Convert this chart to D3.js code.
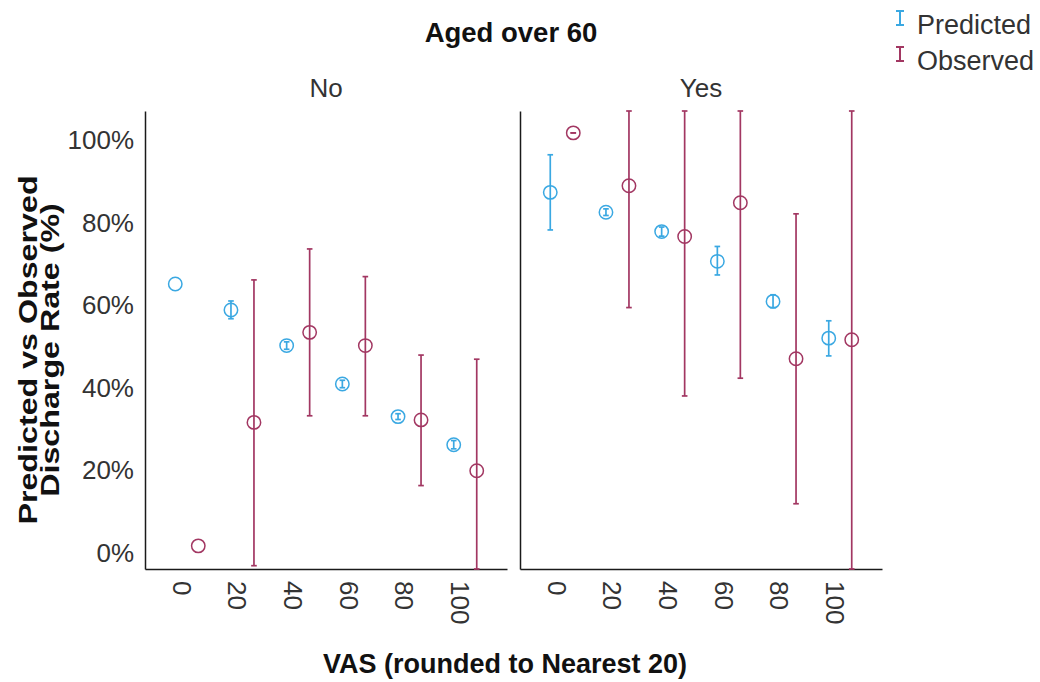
<!DOCTYPE html>
<html>
<head>
<script src='https://d3js.org/d3.v7.min.js'></script>
<style>
body {margin:0; background-color:#ffffff;}
text {font-family:'Liberation Sans', Arial, sans-serif;}
</style>
</head>
<body>
<svg width=1040 height=682></svg>

<script>
var categories = ['0','20','40','60','80','100']
var panels = ['No','Yes']
var yTicks = [0,20,40,60,80,100]

// predicted discharge rate (%) with CI, Aged over 60 = No (null = no interval drawn)
var predNo = [63.4,57.1,48.5,39.2,31.3,24.5]
var predNoLo = [null,55.0,47.6,38.3,30.6,23.5]
var predNoHi = [null,59.3,49.4,40.1,32.0,25.5]
// observed, No
var obsNo = [0,29.9,51.7,48.5,30.5,18.2]
var obsNoLo = [null,-4.8,31.5,31.5,14.6,-9]
var obsNoHi = [null,64.4,71.9,65.2,46.2,45.2]
// predicted, Yes
var predYes = [85.6,80.8,76.1,68.9,59.2,50.3]
var predYesLo = [76.5,80.0,75.0,65.6,57.7,46.0]
var predYesHi = [94.7,81.6,77.2,72.5,60.8,54.5]
// observed, Yes
var obsYes = [100,87.2,74.9,83.1,45.3,49.9]
var obsYesLo = [100,57.7,36.3,40.6,10.2,-10]
var obsYesHi = [100,116.7,113.5,125.6,80.4,110]

var predColor = '#3aa8e2'
var obsColor = '#a23762'
var top_ = 111, bottom = 569
var panelLeft = [145,520], panelWidth = 362
var dodge = 11.5

var svg = d3.select('svg')

var y = d3.scaleLinear().domain([-5.6,105.3]).range([bottom,top_]).clamp(true)
var x = d3.scaleBand().domain(categories).range([0,panelWidth]).paddingInner(0).paddingOuter(0.25)

var series = {
  No: [{v:predNo, lo:predNoLo, hi:predNoHi, c:predColor, off:-dodge},
       {v:obsNo, lo:obsNoLo, hi:obsNoHi, c:obsColor, off:dodge}],
  Yes: [{v:predYes, lo:predYesLo, hi:predYesHi, c:predColor, off:-dodge},
        {v:obsYes, lo:obsYesLo, hi:obsYesHi, c:obsColor, off:dodge}]
}

panels.forEach(function(p,pi){
  var g = svg.append('g').attr('transform','translate('+panelLeft[pi]+',0)')

  // x axis
  var xa = g.append('g').attr('transform','translate(0,'+bottom+')')
     .call(d3.axisBottom(x).tickSize(0).tickSizeOuter(0))
  xa.select('.domain').attr('stroke','#1a1a1a').attr('stroke-width',1.5)
  xa.selectAll('text')
     .attr('transform','translate(-5,0) rotate(90)')
     .attr('x',12).attr('y',0).attr('dy','0.35em')
     .style('text-anchor','start')
     .style('font-size','26px').attr('fill','#333')

  // y axis
  var ya = g.append('g')
     .call(d3.axisLeft(y).tickValues(pi==0 ? yTicks : []).tickSize(0).tickSizeOuter(0).tickPadding(11)
       .tickFormat(function(d){return d+'%'}))
  ya.select('.domain').attr('stroke','#1a1a1a').attr('stroke-width',1.5)
  ya.selectAll('text').attr('dy','0.6em').style('font-size','26px').attr('fill','#333')

  // panel label
  g.append('text').attr('x',panelWidth/2).attr('y',97)
     .attr('text-anchor','middle').style('font-size','26px').attr('fill','#333')
     .text(p)

  series[p].forEach(function(s){
    var cx = function(d,i){return x(categories[i])+x.bandwidth()/2+s.off}
    var idx = s.v.map(function(d,i){return i}).filter(function(i){return s.lo[i]!=null})
    // error bars
    g.selectAll(null).data(idx).enter().append('line')
      .attr('x1',function(i){return cx(0,i)}).attr('x2',function(i){return cx(0,i)})
      .attr('y1',function(i){return y(s.lo[i])})
      .attr('y2',function(i){return y(s.hi[i])})
      .attr('stroke',s.c).attr('stroke-width',1.7)
    ;['lo','hi'].forEach(function(k){
      g.selectAll(null).data(idx).enter().append('line')
        .attr('x1',function(i){return cx(0,i)-2.8})
        .attr('x2',function(i){return cx(0,i)+2.8})
        .attr('y1',function(i){return y(s[k][i])})
        .attr('y2',function(i){return y(s[k][i])})
        .attr('stroke',s.c).attr('stroke-width',1.7)
    })
    // points
    g.selectAll(null).data(s.v).enter().append('circle')
      .attr('cx',cx).attr('cy',function(d){return y(d)})
      .attr('r',6.7).attr('fill','none')
      .attr('stroke',s.c).attr('stroke-width',1.5)
  })
})

// titles
svg.append('text').attr('x',511).attr('y',42).attr('text-anchor','middle')
   .style('font-size','27.5px').style('font-weight','bold').attr('fill','#111')
   .text('Aged over 60')

svg.append('text').attr('x',505).attr('y',673).attr('text-anchor','middle')
   .style('font-size','27px').style('font-weight','bold').attr('fill','#111')
   .text('VAS (rounded to Nearest 20)')

var yt = svg.append('text').attr('transform','translate(0,350) rotate(-90) scale(1.24,1)')
   .attr('text-anchor','middle').style('font-size','26px').style('font-weight','bold').attr('fill','#111')
yt.append('tspan').attr('x',0).attr('y',37).text('Predicted vs Observed')
yt.append('tspan').attr('x',0).attr('y',59).text('Discharge Rate (%)')

// legend
var legend = [{name:'Predicted', c:predColor}, {name:'Observed', c:obsColor}]
legend.forEach(function(l,i){
  var ly = 18 + i*36
  var lg = svg.append('g')
  lg.append('line').attr('x1',900).attr('x2',900).attr('y1',ly-7).attr('y2',ly+7)
    .attr('stroke',l.c).attr('stroke-width',2)
  lg.append('line').attr('x1',896).attr('x2',904).attr('y1',ly-7).attr('y2',ly-7)
    .attr('stroke',l.c).attr('stroke-width',2)
  lg.append('line').attr('x1',896).attr('x2',904).attr('y1',ly+7).attr('y2',ly+7)
    .attr('stroke',l.c).attr('stroke-width',2)
  lg.append('text').attr('x',917).attr('y',ly+16)
    .style('font-size','27px').attr('fill','#333').text(l.name)
})
</script>
</body>
</html>
